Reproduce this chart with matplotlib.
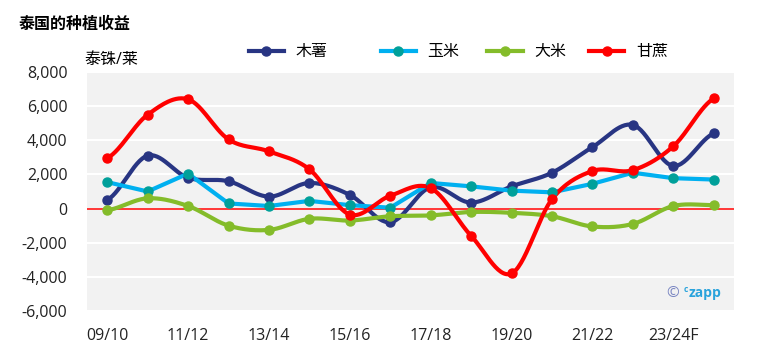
import matplotlib
matplotlib.use("Agg")
import matplotlib.pyplot as plt
import numpy as np

plt.rcParams['font.family'] = ['Open Sans', 'Noto Sans CJK SC', 'DejaVu Sans']

# data (泰铢/莱)
seasons = ['09/10', '10/11', '11/12', '12/13', '13/14', '14/15', '15/16', '16/17',
           '17/18', '18/19', '19/20', '20/21', '21/22', '22/23', '23/24F', '24/25F']
cassava = [500, 3100, 1800, 1600, 700, 1500, 800, -800,
           1250, 350, 1300, 2100, 3600, 4900, 2500, 4400]
maize = [1550, 1000, 2050, 300, 150, 450, 200, 50,
         1500, 1300, 1050, 950, 1450, 2100, 1780, 1700]
rice = [-100, 600, 150, -1000, -1250, -600, -700, -450,
        -400, -200, -250, -450, -1050, -900, 150, 200]
sugarcane = [2950, 5500, 6400, 4050, 3350, 2300, -350, 750,
             1200, -1600, -3800, 550, 2200, 2250, 3650, 6450]
series_names = ['木薯', '玉米', '大米', '甘蔗']

line_colors = ['#283583', '#00b0f0', '#84bc2a', '#ff0000']
marker_colors = ['#283583', '#00a09a', '#84bc2a', '#ff0000']
smooth = [True, False, True, True]
legend_x = [0.328, 0.502, 0.643, 0.777]   # left edge of each legend entry


def smooth_curve(y, n=30):
    # excel-like smoothing (catmull-rom as cubic bezier)
    y = np.asarray(y, dtype=float)
    p = np.concatenate([[y[0]], y, [y[-1]]])
    xs, ys = [], []
    t = np.linspace(0, 1, n, endpoint=False)
    for i in range(len(y) - 1):
        p0, p3 = p[i + 1], p[i + 2]
        p1 = p0 + (p[i + 2] - p[i]) / 6
        p2 = p3 - (p[i + 3] - p[i + 1]) / 6
        b = ((1 - t) ** 3 * p0 + 3 * (1 - t) ** 2 * t * p1
             + 3 * (1 - t) * t ** 2 * p2 + t ** 3 * p3)
        xs.append(i + t)
        ys.append(b)
    xs.append([len(y) - 1])
    ys.append([y[-1]])
    return np.concatenate(xs), np.concatenate(ys)


fig = plt.figure(figsize=(7.58, 3.61), dpi=100)
ax = fig.add_axes([0.1148, 0.1385, 0.8535, 0.6621])
ax.set_facecolor('#f2f2f2')
for s in ax.spines.values():
    s.set_visible(False)

x = np.arange(len(seasons))
handles = []
for vals, name, lc, mc, sm in zip([cassava, maize, rice, sugarcane], series_names,
                                  line_colors, marker_colors, smooth):
    if sm:
        xs, ys = smooth_curve(vals)
    else:
        xs, ys = x, np.asarray(vals)
    ax.plot(xs, ys, color=lc, lw=3, solid_capstyle='round', zorder=3)
    ax.plot(x, vals, 'o', color=mc, ms=6.5, zorder=4)
    h, = ax.plot([], [], color=lc, lw=3, marker='o', ms=6.5, mfc=mc, mec=mc)
    handles.append(h)

ax.axhline(0, color='#ff0000', lw=1.1, zorder=2.5)
ax.set_ylim(-6000, 8000)
ax.set_xlim(-0.5, 15.5)
ax.set_yticks(np.arange(-6000, 8001, 2000))
ax.set_yticklabels([f'{v:,}' for v in range(-6000, 8001, 2000)])
ax.set_xticks(x[::2])
ax.set_xticklabels(seasons[::2])
ax.grid(axis='y', color='white', lw=1.5, zorder=1)
ax.set_axisbelow(True)
ax.tick_params(axis='both', length=0, labelsize=11.5, colors='#222222')
ax.tick_params(axis='y', pad=14)
ax.tick_params(axis='x', pad=12)

fig.text(0.025, 0.93, '泰国的种植收益', fontsize=11.5, fontweight='bold',
         va='center', ha='left')
fig.text(0.112, 0.835, '泰铢/莱', fontsize=11.5, va='center', ha='left')

for h, name, lx in zip(handles, series_names, legend_x):
    leg = fig.legend([h], [name], loc='center left', bbox_to_anchor=(lx, 0.855),
                     frameon=False, fontsize=11.5, handlelength=2.2,
                     handletextpad=0.75, borderpad=0, borderaxespad=0)

# watermark
ax.text(0.895, 0.075, '©', transform=ax.transAxes, fontsize=11,
        color='#7a86c2', ha='left', va='center')
ax.text(0.922, 0.09, 'c', transform=ax.transAxes, fontsize=6,
        color='#29a3dc', ha='left', va='center', fontweight='bold')
ax.text(0.930, 0.075, 'zapp', transform=ax.transAxes, fontsize=10,
        color='#29a3dc', ha='left', va='center', fontweight='bold')

fig.savefig('out.png', dpi=100)
